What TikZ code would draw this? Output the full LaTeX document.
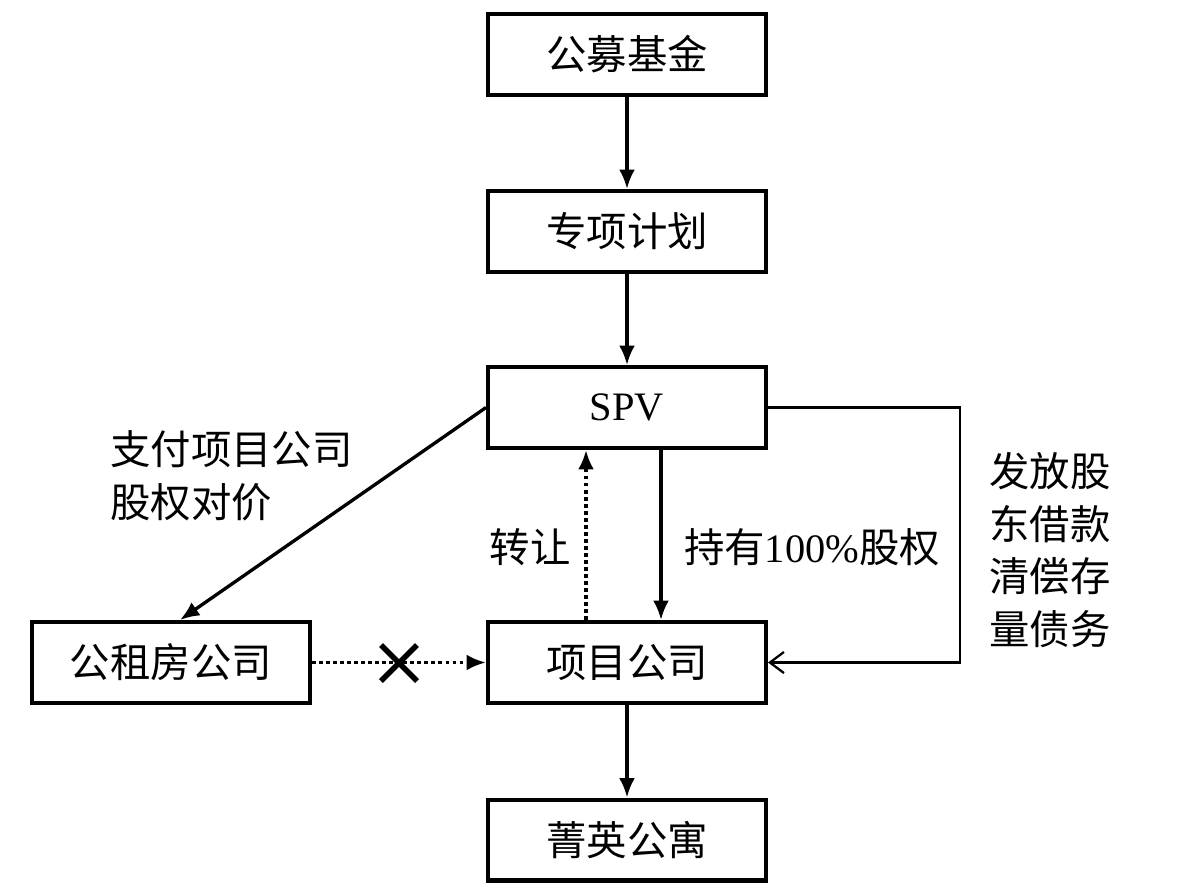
\documentclass[tikz,border=0pt]{standalone}
\usepackage{fontspec}
\setmainfont{Liberation Serif}
\newfontfamily\cjk{Noto Sans CJK SC}
\usetikzlibrary{arrows.meta,calc}
\begin{document}
\begin{tikzpicture}[x=0.02cm,y=-0.02cm,
  box/.style={draw,line width=2.3pt,minimum width=5.56cm,minimum height=1.62cm,inner sep=0pt,font=\fontsize{23}{30}\selectfont\cjk},
  arr/.style={line width=1.9pt,-{Latex[length=11pt,width=9pt]}},
  dotarr/.style={line width=2pt,dash pattern=on 2pt off 2pt,-{Latex[length=11pt,width=9pt]}},
  thinarr/.style={line width=1.3pt,-{Straight Barb[length=8pt,width=12pt,line width=1.3pt]}},
  lbl/.style={font=\fontsize{23}{30}\selectfont\cjk,inner sep=0pt,align=left}]
\useasboundingbox (0,0) rectangle (1180,894);
\node[box] (gm) at (627,54.5) {公募基金};
\node[box] (zx) at (627,231.5) {专项计划};
\node[box] (spv) at (627,407.5) {\rmfamily SPV};
\node[box] (xm) at (627,662.5) {项目公司};
\node[box] (jy) at (627,840) {菁英公寓};
\node[box] (gzf) at (171,662.5) {公租房公司};
\coordinate (loop) at (960,500);
\coordinate (xmark) at (399,663);
\draw[arr] (gm) -- (zx);
\draw[arr] (zx) -- (spv);
\draw[arr] (xm) -- (jy);
\draw[arr] ($(spv.south)+(34,0)$) -- ($(xm.north)+(34,0)$);
\draw[dotarr] ($(xm.north)+(-41,0)$) -- ($(spv.south)+(-41,0)$);
\draw[arr] (spv.west) -- ($(gzf.north)+(9,0)$);
\draw[dotarr] (gzf.east) -- (xm.west);
\draw[thinarr] (spv.east) -- (spv.east -| loop) |- (xm.east);
\draw[line width=3.2pt] ($(xmark)+(-18,-18)$) -- ($(xmark)+(18,18)$);
\draw[line width=3.2pt] ($(xmark)+(-18,18)$) -- ($(xmark)+(18,-18)$);
\node[lbl] (zr) at (530,547) {转让};
\node[lbl] (cy) at (812,547) {持有{\rmfamily 100\%}股权};
\node[lbl,anchor=north west] (zf) at (110,430) {支付项目公司\\股权对价};
\node[lbl] (ff) at (1050,550) {发放股\\东借款\\清偿存\\量债务};
\end{tikzpicture}
\end{document}
